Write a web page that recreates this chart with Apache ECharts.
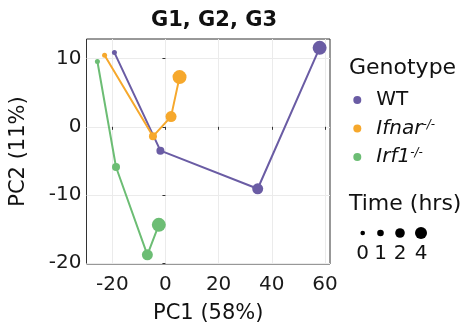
<!DOCTYPE html>
<html><head><meta charset="utf-8">
<script src="https://cdn.jsdelivr.net/npm/echarts@6/dist/echarts.min.js"></script>
<style>html,body{margin:0;padding:0;background:#fff}#c{width:471px;height:329px}</style>
</head><body><div id="c"></div>
<script>
const times = [0, 1, 2, 4];
const genotypes = ['WT', 'Ifnar', 'Irf1'];
const wtPC1 = [-19.2, -1.9, 34.7, 58.0];
const wtPC2 = [10.9, -3.5, -9.1, 11.6];
const ifnarPC1 = [-22.9, -4.7, 2.1, 5.3];
const ifnarPC2 = [10.5, -1.4, 1.5, 7.3];
const irf1PC1 = [-25.6, -18.6, -6.8, -2.5];
const irf1PC2 = [9.6, -5.9, -18.8, -14.4];
const xTicks = [-20, 0, 20, 40, 60];
const yTicks = [-20, -10, 0, 10];

const colors = ['#6a5ca4', '#f6a82c', '#6cbd74'];
const sizeOf = {0: 5, 1: 8, 2: 11, 4: 14};
const legendSizeOf = {0: 4.6, 1: 6.6, 2: 9.6, 4: 12};
const pc1 = [wtPC1, ifnarPC1, irf1PC1];
const pc2 = [wtPC2, ifnarPC2, irf1PC2];

const series = genotypes.map((g, gi) => ({
  name: g,
  type: 'line',
  data: times.map((t, i) => [pc1[gi][i], pc2[gi][i], t]),
  symbol: 'circle',
  symbolSize: v => sizeOf[v[2]],
  showSymbol: true,
  lineStyle: {width: 2, color: colors[gi]},
  itemStyle: {color: colors[gi]},
  z: 2 + gi,
  animation: false
}));

const chart = echarts.init(document.getElementById('c'));
const font = '"DejaVu Sans", sans-serif';
const legendSizeX = [362.7, 380.5, 400, 421];
const graphics = [
  {type: 'text', x: 349, y: 68, style: {text: 'Genotype', font: '22px ' + font, fill: '#111', verticalAlign: 'middle'}},
  {type: 'text', x: 349, y: 204, style: {text: 'Time (hrs)', font: '22px ' + font, fill: '#111', verticalAlign: 'middle'}}
];
times.forEach((t, i) => {
  graphics.push({type: 'circle', shape: {cx: legendSizeX[i], cy: 233, r: legendSizeOf[t] / 2}, style: {fill: '#000'}});
  graphics.push({type: 'text', x: legendSizeX[i], y: 254, style: {text: String(t), font: '20px ' + font, fill: '#111', align: 'center', verticalAlign: 'middle'}});
});

chart.setOption({
  animation: false,
  color: colors,
  title: {text: 'G1, G2, G3', left: 209, textAlign: 'center', top: 5.5,
    textStyle: {fontFamily: font, fontSize: 21, fontWeight: 'bold', color: '#111'}},
  grid: {left: 83, top: 39, width: 247, height: 226, show: true, borderColor: '#333', borderWidth: 1, containLabel: false},
  xAxis: {
    type: 'value', min: -29.7, max: 61.9,
    name: 'PC1 (58%)', nameLocation: 'middle', nameGap: 39,
    nameTextStyle: {fontFamily: font, fontSize: 21, color: '#111'},
    axisLine: {show: false},
    axisTick: {show: true, length: 3, customValues: xTicks, lineStyle: {color: '#333'}},
    axisLabel: {customValues: xTicks, fontFamily: font, fontSize: 20, color: '#1a1a1a', margin: 11},
    splitLine: {show: true, lineStyle: {color: '#ebebeb', width: 1}}
  },
  yAxis: {
    type: 'value', min: -20.15, max: 12.9,
    name: 'PC2 (11%)', nameLocation: 'middle', nameGap: 57.5, nameRotate: 90,
    nameTextStyle: {fontFamily: font, fontSize: 21, color: '#111'},
    axisLine: {show: false},
    axisTick: {show: true, length: 3, customValues: yTicks, lineStyle: {color: '#333'}},
    axisLabel: {customValues: yTicks, fontFamily: font, fontSize: 20, color: '#1a1a1a', margin: 5},
    splitLine: {show: true, lineStyle: {color: '#ebebeb', width: 1}}
  },
  legend: {
    orient: 'vertical', left: 348.3, top: 85, itemGap: 8.5,
    icon: 'circle', itemWidth: 8, itemHeight: 8,
    data: genotypes,
    formatter: n => n === 'WT' ? '{n|WT}' : '{i|' + n + '}{s|-/-}',
    textStyle: {
      fontFamily: font, fontSize: 20, color: '#111', lineHeight: 20, padding: [0, 0, 0, 10],
      rich: {
        n: {fontFamily: font, fontSize: 20, color: '#111', lineHeight: 20},
        i: {fontFamily: font, fontSize: 20, fontStyle: 'italic', color: '#111', lineHeight: 20},
        s: {fontFamily: font, fontSize: 12, fontStyle: 'italic', color: '#111', verticalAlign: 'top', lineHeight: 14}
      }
    }
  },
  graphic: graphics,
  series: series
});
</script></body></html>
